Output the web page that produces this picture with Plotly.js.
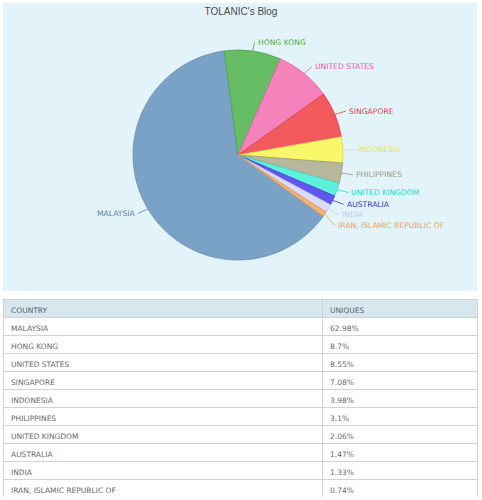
<!DOCTYPE html>
<html><head><meta charset="utf-8">
<script src="https://cdn.plot.ly/plotly-3.0.1.min.js"></script>
<style>html,body{margin:0;padding:0;background:#fff;}#chart{width:482px;height:500px;}</style>
</head><body><div id="chart"></div>
<script>
const countries = ['MALAYSIA','HONG KONG','UNITED STATES','SINGAPORE','INDONESIA','PHILIPPINES','UNITED KINGDOM','AUSTRALIA','INDIA','IRAN, ISLAMIC REPUBLIC OF'];
const uniques = [62.98, 8.7, 8.55, 7.08, 3.98, 3.1, 2.06, 1.47, 1.33, 0.74];
const uniqueLabels = uniques.map(v => v + '%');
const sliceColors = ['#7aa1c6','#66bd63','#f682bb','#f25a5e','#f8f76a','#b7b79c','#5ff0dc','#6058ee','#dcdcf8','#f6b274'];
const lineColors  = ['#6a8fb3','#4f9f4d','#d9669f','#d84449','#d9d850','#9c9c82','#43d0bd','#4a42cf','#c0c0e0','#d9965a'];
const labelColors = ['#5d7fa8','#4eae4c','#e05fa8','#e43a48','#e6e650','#9a9a80','#22d6d0','#3a34c8','#c8c8ee','#e9a25e'];

const W = 482, H = 500;
const rotation = 125.7;
const pieDomain = {x: [133/W, 343/W], y: [1 - 260/H, 1 - 50/H]};

// geometry from domain
const cx = (pieDomain.x[0] + pieDomain.x[1]) / 2 * W;
const cy = (1 - (pieDomain.y[0] + pieDomain.y[1]) / 2) * H;
const r = Math.min((pieDomain.x[1] - pieDomain.x[0]) * W, (pieDomain.y[1] - pieDomain.y[0]) * H) / 2;
const total = uniques.reduce((a, b) => a + b, 0);

let ang = rotation;
const labs = [];
uniques.forEach((v, i) => {
  const sweep = v / total * 360;
  const mid = (ang + sweep / 2) * Math.PI / 180;
  ang += sweep;
  const sx = Math.sin(mid), sy = -Math.cos(mid);
  labs.push({i, sx, sy,
    ex: cx + r * sx, ey: cy + r * sy,
    lx: cx + (r + 12) * sx, ly: cy + (r + 9) * sy,
    right: sx >= 0});
});
// simple overlap avoidance on right side
const rightLabs = labs.filter(l => l.right).sort((a, b) => a.ly - b.ly);
for (let k = 1; k < rightLabs.length; k++) {
  if (rightLabs[k].ly - rightLabs[k-1].ly < 10.5) rightLabs[k].ly = rightLabs[k-1].ly + 10.5;
}

const annotations = labs.map(l => ({
  xref: 'paper', yref: 'paper',
  x: l.ex / W, y: 1 - l.ey / H,
  ax: l.lx - l.ex, ay: l.ly - l.ey,
  axref: 'pixel', ayref: 'pixel',
  text: countries[l.i],
  showarrow: true, arrowhead: 0, arrowwidth: 0.8, arrowcolor: labelColors[l.i],
  standoff: 0, startstandoff: 0,
  xanchor: l.right ? 'left' : 'right', yanchor: 'middle',
  borderpad: 2,
  font: {family: 'DejaVu Sans, Verdana, sans-serif', size: 7.6, color: labelColors[l.i]}
}));

const pie = {
  type: 'pie',
  labels: countries,
  values: uniques,
  sort: false,
  direction: 'clockwise',
  rotation: rotation,
  textinfo: 'none',
  hoverinfo: 'none',
  showlegend: false,
  domain: pieDomain,
  marker: {colors: sliceColors, line: {color: lineColors, width: 0.8}}
};

const table = {
  type: 'table',
  domain: {x: [3/W, 477/W], y: [3/H, 1 - 299/H]},
  columnwidth: [319, 155],
  header: {
    values: ['COUNTRY', 'UNIQUES'],
    align: 'left', height: 18,
    fill: {color: '#d8e7ee'},
    line: {color: '#c9d3d8', width: 1},
    font: {family: 'DejaVu Sans, Verdana, sans-serif', size: 7.5, color: '#55626c'}
  },
  cells: {
    values: [countries, uniqueLabels],
    align: 'left', height: 18,
    fill: {color: '#ffffff'},
    line: {color: '#d3d3d3', width: 1},
    font: {family: 'DejaVu Sans, Verdana, sans-serif', size: 7.5, color: '#6a6a6a'}
  }
};

const layout = {
  width: W, height: H,
  margin: {l: 0, r: 0, t: 0, b: 0},
  paper_bgcolor: '#ffffff',
  title: {text: "TOLANIC's Blog", x: 0.5, xanchor: 'center', y: 1 - 11.5/H, yanchor: 'middle',
          font: {family: 'Liberation Sans, Arial, sans-serif', size: 10, color: '#4a4a4a'}},
  shapes: [{type: 'rect', xref: 'paper', yref: 'paper', layer: 'below',
            x0: 3/W, x1: 477/W, y0: 1 - 291/H, y1: 1 - 3/H,
            fillcolor: '#e3f3fa', line: {width: 0}}],
  annotations: annotations
};

Plotly.newPlot('chart', [pie, table], layout, {displayModeBar: false, staticPlot: true});
</script>
</body></html>
